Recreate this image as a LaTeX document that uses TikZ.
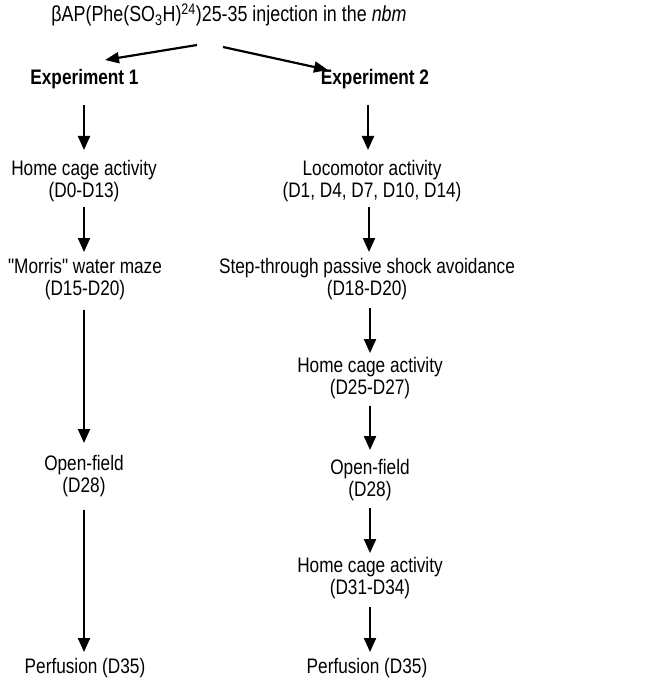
\documentclass[tikz,border=0pt]{standalone}
\usepackage{fontspec}
\setmainfont{Liberation Sans}[FakeStretch=0.82,Ligatures=TeXOff]
\usetikzlibrary{arrows.meta,calc}
\begin{document}
\begin{tikzpicture}[x=1pt,y=-1pt,
  lbl/.style={inner sep=0pt,align=center,font=\fontsize{21}{22}\selectfont},
  hdr/.style={inner sep=0pt,font=\fontsize{21}{22}\selectfont\bfseries},
  arr/.style={line width=2.2pt,-{Triangle[length=14pt,width=12pt]}},
  darr/.style={line width=2.2pt,-{Triangle[length=14pt,width=11pt]}}]
\useasboundingbox (0,0) rectangle (653,679);
\node[lbl,font=\fontsize{21.8}{22}\selectfont] (title) at (229,15) {βAP(Phe(SO\textsubscript{3}H)\textsuperscript{24})25-35 injection in the \textit{nbm}};
\node[hdr] (exp1) at (84.5,79) {Experiment 1};
\node[hdr] (exp2) at (375,79) {Experiment 2};
% left column
\node[lbl] (hc1) at (84,181) {Home cage activity\\(D0-D13)};
\node[lbl] (mwm) at (85,279.5) {"Morris" water maze\\(D15-D20)};
\node[lbl] (of1) at (84,476) {Open-field\\(D28)};
\node[lbl] (perf1) at (85,668) {Perfusion (D35)};
% right column
\node[lbl] (loco) at (372,181) {Locomotor activity\\(D1, D4, D7, D10, D14)};
\node[lbl] (step) at (367,279.5) {Step-through passive shock avoidance\\(D18-D20)};
\node[lbl] (hc2) at (370,378.5) {Home cage activity\\(D25-D27)};
\node[lbl] (of2) at (370,480.5) {Open-field\\(D28)};
\node[lbl] (hc3) at (370,578.5) {Home cage activity\\(D31-D34)};
\node[lbl] (perf2) at (367,668) {Perfusion (D35)};
% top arrows
\draw[darr] ($(title.center)+(-32,30)$) -- ($(exp1.center)+(20.5,-19)$);
\draw[darr] ($(title.center)+(-6,32)$) -- ($(exp2.center)+(-47,-9)$);
% left arrows
\draw[arr] ($(exp1.center -| hc1.center)+(0,26)$) -- ($(hc1.center)+(0,-31)$);
\draw[arr] ($(hc1.center)+(0,26)$) -- ($(mwm.center -| hc1.center)+(0,-27.5)$);
\draw[arr] ($(mwm.center -| hc1.center)+(0,30.5)$) -- ($(of1.center)+(0,-33)$);
\draw[arr] ($(of1.center)+(0,34)$) -- ($(perf1.center -| of1.center)+(0,-16)$);
% right arrows
\draw[arr] ($(exp2.center -| hc2.center)+(-2,26)$) -- ($(loco.center -| hc2.center)+(-2,-31)$);
\draw[arr] ($(loco.center -| hc2.center)+(-1,26)$) -- ($(step.center -| hc2.center)+(-1,-27.5)$);
\draw[arr] ($(step.center -| hc2.center)+(0,28.5)$) -- ($(hc2.center)+(0,-25.5)$);
\draw[arr] ($(hc2.center)+(0,27.5)$) -- ($(of2.center)+(0,-30.5)$);
\draw[arr] ($(of2.center)+(0,27.5)$) -- ($(hc3.center)+(0,-25.5)$);
\draw[arr] ($(hc3.center)+(0,28.5)$) -- ($(perf2.center -| hc3.center)+(0,-16)$);
\end{tikzpicture}
\end{document}
